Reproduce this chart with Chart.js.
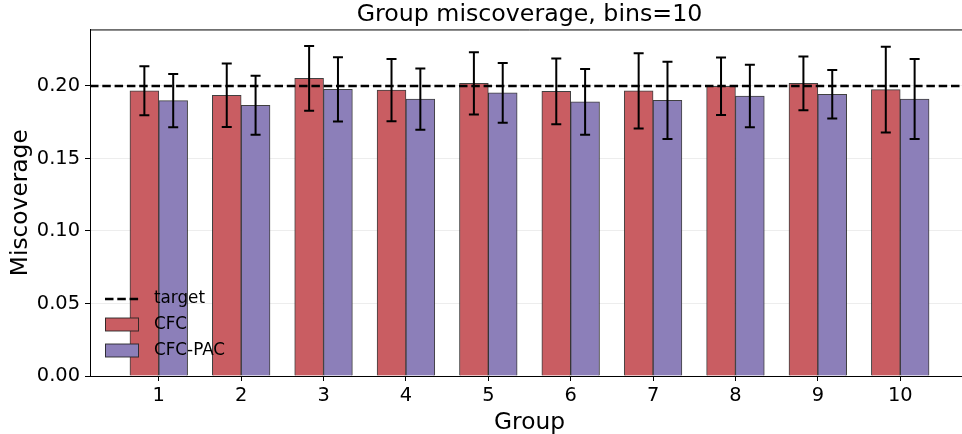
<!DOCTYPE html>
<html>
<head>
<meta charset="utf-8">
<script src="https://cdn.jsdelivr.net/npm/chart.js@4.4.1/dist/chart.umd.min.js"></script>
<style>
    html, body { margin: 0; padding: 0; background: #fff; overflow: hidden; }
    #wrap { position: relative; width: 975px; height: 434px; }
</style>
</head>
<body>
<div id="wrap"><canvas id="chart"></canvas></div>
<script>
const groups = ['1', '2', '3', '4', '5', '6', '7', '8', '9', '10'];
const cfcMean = [0.1967, 0.1936, 0.2053, 0.1972, 0.2018, 0.1963, 0.1966, 0.1998, 0.2018, 0.1975];
const cfcErr = [0.0169, 0.0219, 0.0223, 0.0215, 0.0215, 0.0227, 0.0259, 0.0198, 0.0186, 0.0296];
const pacMean = [0.1899, 0.1867, 0.1977, 0.1910, 0.1952, 0.1890, 0.1901, 0.1931, 0.1943, 0.1910];
const pacErr = [0.0183, 0.0204, 0.0222, 0.0211, 0.0206, 0.0227, 0.0267, 0.0215, 0.0167, 0.0276];
const target = 0.2;

const barWidth = 0.35;
const xMin = 0.165;
const xMax = 10.835;
const yMax = 0.239;

Chart.defaults.font.family = '"DejaVu Sans", sans-serif';
Chart.defaults.color = '#000';

const barPoints = (means, shift) => means.map((v, i) => ({ x: i + 1 + shift, y: v }));

// error bars, drawn on top of everything from the scales
const errorBars = {
    id: 'errorBars',
    afterDatasetsDraw(chart) {
        const { ctx } = chart;
        const yScale = chart.scales.y;
        ctx.save();
        ctx.strokeStyle = '#000';
        ctx.lineWidth = 2;
        chart.data.datasets.forEach((ds, di) => {
            if (!ds.errors) return;
            const meta = chart.getDatasetMeta(di);
            meta.data.forEach((bar, i) => {
                const m = ds.data[i].y;
                const e = ds.errors[i];
                const top = yScale.getPixelForValue(m + e);
                const bot = yScale.getPixelForValue(m - e);
                ctx.beginPath();
                ctx.moveTo(bar.x, top);
                ctx.lineTo(bar.x, bot);
                ctx.moveTo(bar.x - 5, top);
                ctx.lineTo(bar.x + 5, top);
                ctx.moveTo(bar.x - 5, bot);
                ctx.lineTo(bar.x + 5, bot);
                ctx.stroke();
            });
        });
        ctx.restore();
    }
};

// top spine + title centred over the axes
const frame = {
    id: 'frame',
    afterLayout(chart) {
        const t = chart.titleBlock;
        t.left = chart.chartArea.left;
        t.right = chart.chartArea.right;
        t.width = t.right - t.left;
    },
    afterDraw(chart) {
        const { ctx, chartArea } = chart;
        ctx.save();
        ctx.strokeStyle = '#000';
        ctx.lineWidth = 1;
        ctx.beginPath();
        ctx.moveTo(chartArea.left, chartArea.top + 0.5);
        ctx.lineTo(chartArea.right, chartArea.top + 0.5);
        ctx.stroke();
        ctx.restore();
    }
};

// legend inside the axes, lower left, no frame
const innerLegend = {
    id: 'innerLegend',
    afterDraw(chart) {
        const { ctx, chartArea } = chart;
        const ds = chart.data.datasets;
        const x0 = chartArea.left + 15;
        const rows = [chartArea.bottom - 77, chartArea.bottom - 51.5, chartArea.bottom - 25.5];
        const order = [2, 0, 1];
        ctx.save();
        ctx.font = '16.8px "DejaVu Sans"';
        ctx.textBaseline = 'middle';
        ctx.fillStyle = '#000';
        order.forEach((di, r) => {
            const d = ds[di];
            const y = rows[r];
            if (d.type === 'line') {
                ctx.save();
                ctx.strokeStyle = d.borderColor;
                ctx.lineWidth = d.borderWidth;
                ctx.setLineDash(d.borderDash);
                ctx.beginPath();
                ctx.moveTo(x0, y);
                ctx.lineTo(x0 + 34, y);
                ctx.stroke();
                ctx.restore();
            } else {
                ctx.fillStyle = d.backgroundColor;
                ctx.fillRect(x0, y - 6.5, 34, 13);
                ctx.strokeStyle = d.borderColor;
                ctx.lineWidth = 1;
                ctx.strokeRect(x0 + 0.5, y - 6.5, 33, 13);
            }
            ctx.fillStyle = '#000';
            ctx.fillText(d.label, x0 + 49, y);
        });
        ctx.restore();
    }
};

const ctx = document.getElementById('chart').getContext('2d');
new Chart(ctx, {
    type: 'bar',
    data: {
        datasets: [
            {
                label: 'CFC',
                data: barPoints(cfcMean, -barWidth / 2),
                errors: cfcErr,
                backgroundColor: '#c95d62',
                borderColor: 'rgba(30,30,30,0.85)',
                borderWidth: 1,
                grouped: false,
                barPercentage: 1,
                categoryPercentage: 1,
                order: 1
            },
            {
                label: 'CFC-PAC',
                data: barPoints(pacMean, barWidth / 2),
                errors: pacErr,
                backgroundColor: '#8c7fb9',
                borderColor: 'rgba(30,30,30,0.85)',
                borderWidth: 1,
                grouped: false,
                barPercentage: 1,
                categoryPercentage: 1,
                order: 1
            },
            {
                type: 'line',
                label: 'target',
                data: [{ x: xMin, y: target }, { x: xMax, y: target }],
                borderColor: '#000',
                borderWidth: 2.6,
                borderDash: [8.5, 3.8],
                pointRadius: 0,
                fill: false,
                order: 0
            }
        ]
    },
    options: {
        responsive: true,
        maintainAspectRatio: false,
        animation: false,
        layout: { padding: { left: 0, right: 6, top: 0, bottom: 0 } },
        plugins: {
            legend: { display: false },
            tooltip: { enabled: false },
            title: {
                display: true,
                text: 'Group miscoverage, bins=10',
                font: { size: 23.7, weight: 'normal', lineHeight: 1.2 },
                color: '#000',
                padding: { top: 0.5, bottom: 0.5 }
            }
        },
        scales: {
            x: {
                type: 'linear',
                min: xMin,
                max: xMax,
                offset: false,
                afterFit: (s) => { s.height = 58; },
                ticks: {
                    stepSize: 1,
                    includeBounds: false,
                    font: { size: 19.4 },
                    padding: 3,
                    maxRotation: 0,
                    callback: (v) => groups[v - 1]
                },
                grid: {
                    offset: false,
                    drawOnChartArea: false,
                    tickLength: 5,
                    tickColor: '#000'
                },
                border: { color: '#000', width: 1 },
                title: {
                    display: true,
                    text: 'Group',
                    font: { size: 23.3, lineHeight: 0.9 },
                    padding: { top: 0, bottom: 1 }
                }
            },
            y: {
                min: 0,
                max: yMax,
                afterFit: (s) => { s.width = 90; },
                ticks: {
                    stepSize: 0.05,
                    includeBounds: false,
                    font: { size: 19.4 },
                    padding: 5,
                    callback: (v) => v.toFixed(2)
                },
                grid: {
                    color: (c) => (c.tick && c.tick.value === 0 ? 'rgba(0,0,0,0)' : 'rgba(0,0,0,0.07)'),
                    tickLength: 5,
                    tickColor: '#000'
                },
                border: { color: '#000', width: 1 },
                title: {
                    display: true,
                    text: 'Miscoverage',
                    font: { size: 23.3 },
                    padding: { top: 6.5, bottom: 0 }
                }
            }
        }
    },
    plugins: [errorBars, frame, innerLegend]
});
</script>
</body>
</html>
